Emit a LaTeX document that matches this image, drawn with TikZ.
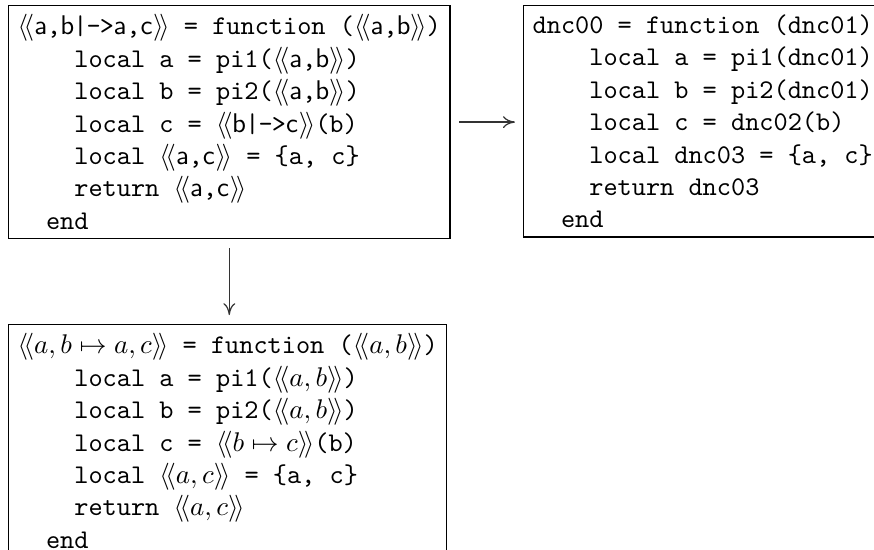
\documentclass[tikz,border=0pt]{standalone}
\usepackage{fontspec}
\usetikzlibrary{arrows.meta}
\newcommand\dq[1]{$\langle\!\langle$#1$\rangle\!\rangle$}
\newcommand\sfc[1]{\makebox[4.9pt]{\sffamily #1}}
\newcommand\ttc[1]{\makebox[4.9pt]{\ttfamily #1}}
\newcommand\ifour{\hspace*{2.1em}}
\newcommand\itwo{\hspace*{1.05em}}
\newcommand\mdq[1]{$\langle\!\langle #1\rangle\!\rangle$}
\begin{document}
\begin{tikzpicture}[x=0.37037pt,y=-0.37037pt]
\tikzset{
  codebox/.style={draw, line width=0.5pt, anchor=north west, align=left, font=\ttfamily, inner sep=3.33pt},
  conn/.style={-{To[length=4.4pt,width=4.4pt]}, line width=0.45pt, draw=black!80}
}
\clip (0,0) rectangle (874,549);
\node[codebox] (b1) at (8,5) {%
\dq{\sfc{a}\ttc{,}\sfc{b}\ttc{|}\ttc{-}\ttc{>}\sfc{a}\ttc{,}\sfc{c}} = function (\dq{\sfc{a}\ttc{,}\sfc{b}})\\
\ifour local a = pi1(\dq{\sfc{a}\ttc{,}\sfc{b}})\\
\ifour local b = pi2(\dq{\sfc{a}\ttc{,}\sfc{b}})\\
\ifour local c = \dq{\sfc{b}\ttc{|}\ttc{-}\ttc{>}\sfc{c}}(b)\\
\ifour local \dq{\sfc{a}\ttc{,}\sfc{c}} = \{a, c\}\\
\ifour return \dq{\sfc{a}\ttc{,}\sfc{c}}\\
\itwo end};
\node[codebox] (b2) at (523,5) {%
dnc00 = function (dnc01)\\
\ifour local a = pi1(dnc01)\\
\ifour local b = pi2(dnc01)\\
\ifour local c = dnc02(b)\\
\ifour local dnc03 = \{a, c\}\\
\ifour return dnc03\\
\itwo end};
\node[codebox] (b3) at (8,324) {%
\mdq{a,b\mapsto a,c} = function (\mdq{a,b})\\
\ifour local a = pi1(\mdq{a,b})\\
\ifour local b = pi2(\mdq{a,b})\\
\ifour local c = \mdq{b\mapsto c}(b)\\
\ifour local \mdq{a,c} = \{a, c\}\\
\ifour return \mdq{a,c}\\
\itwo end};
\draw[conn, shorten <=3.3pt, shorten >=3pt] (b1.east) -- (b1.east -| b2.west);
\draw[conn, shorten <=3.3pt, shorten >=3.3pt] (b1.south) -- (b1.south |- b3.north);
\end{tikzpicture}
\end{document}
